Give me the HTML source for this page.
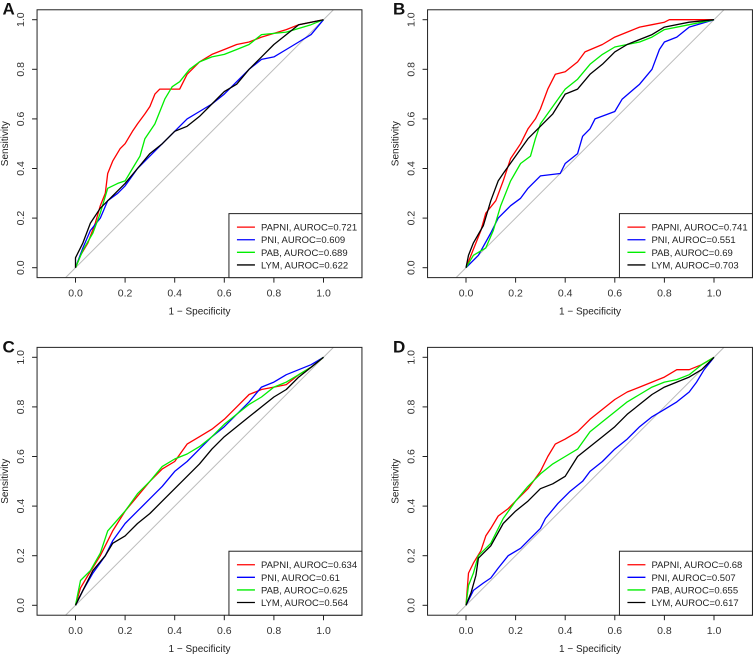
<!DOCTYPE html>
<html><head><meta charset="utf-8"><style>
html,body{margin:0;padding:0;background:#fff;}
svg{display:block;font-family:"Liberation Sans",Arial,sans-serif;}
</style></head><body>
<svg id="chart" width="753" height="655" viewBox="0 0 753 655" xmlns="http://www.w3.org/2000/svg"></svg>
<script>
const panelLetters=["A","B","C","D"];
const seriesNames=["PAPNI","PNI","PAB","LYM"];
const seriesColors=["#ff0000","#0000ff","#00ee00","#000000"];
const aurocA=["0.721","0.609","0.689","0.622"];
const aurocB=["0.741","0.551","0.69","0.703"];
const aurocC=["0.634","0.61","0.625","0.564"];
const aurocD=["0.68","0.507","0.655","0.617"];
const tickValues=[0,0.2,0.4,0.6,0.8,1];
const tickLabels=["0.0","0.2","0.4","0.6","0.8","1.0"];
// panel A
const aPapniX=[0,0.02,0.05,0.08,0.1,0.12,0.13,0.15,0.18,0.2,0.23,0.25,0.28,0.3,0.32,0.34,0.42,0.45,0.5,0.55,0.6,0.65,0.7,0.75,0.85,0.9,1];
const aPapniY=[0,0.05,0.1,0.18,0.25,0.3,0.38,0.43,0.48,0.5,0.55,0.58,0.62,0.65,0.7,0.72,0.72,0.78,0.83,0.86,0.88,0.9,0.91,0.93,0.96,0.98,1];
const aPniX=[0,0.03,0.06,0.1,0.13,0.17,0.2,0.25,0.3,0.35,0.4,0.45,0.5,0.55,0.6,0.65,0.7,0.75,0.8,0.85,0.9,0.95,1];
const aPniY=[0,0.08,0.15,0.2,0.27,0.3,0.33,0.4,0.45,0.5,0.55,0.6,0.63,0.66,0.7,0.75,0.8,0.84,0.85,0.88,0.91,0.94,1];
const aPabX=[0,0.03,0.07,0.1,0.13,0.17,0.2,0.23,0.26,0.28,0.32,0.36,0.39,0.42,0.46,0.5,0.55,0.6,0.65,0.7,0.75,0.85,0.95,1];
const aPabY=[0,0.07,0.14,0.22,0.32,0.34,0.35,0.4,0.45,0.52,0.58,0.68,0.73,0.75,0.8,0.83,0.85,0.86,0.88,0.9,0.94,0.95,0.98,1];
const aLymX=[0,0,0.03,0.06,0.1,0.15,0.2,0.25,0.3,0.35,0.4,0.45,0.5,0.55,0.6,0.65,0.7,0.75,0.8,0.85,0.9,1];
const aLymY=[0,0.04,0.1,0.18,0.24,0.29,0.34,0.4,0.46,0.5,0.55,0.57,0.61,0.66,0.71,0.74,0.8,0.85,0.9,0.94,0.98,1];
// panel B
const bPapniX=[0,0.02,0.06,0.08,0.12,0.15,0.18,0.22,0.25,0.28,0.3,0.33,0.36,0.4,0.45,0.48,0.55,0.6,0.65,0.7,0.75,0.8,0.82,1];
const bPapniY=[0,0.05,0.15,0.22,0.27,0.35,0.44,0.5,0.56,0.6,0.64,0.72,0.78,0.79,0.83,0.87,0.9,0.93,0.95,0.97,0.98,0.99,1,1];
const bPniX=[0,0.05,0.1,0.13,0.18,0.22,0.25,0.3,0.38,0.4,0.45,0.47,0.5,0.52,0.6,0.63,0.7,0.75,0.78,0.8,0.85,0.9,1];
const bPniY=[0,0.05,0.14,0.2,0.25,0.28,0.32,0.37,0.38,0.42,0.46,0.53,0.56,0.6,0.63,0.68,0.74,0.8,0.88,0.91,0.93,0.97,1];
const bPabX=[0,0.03,0.08,0.11,0.14,0.18,0.22,0.26,0.28,0.3,0.35,0.4,0.45,0.5,0.55,0.6,0.65,0.7,0.75,0.8,0.9,1];
const bPabY=[0,0.05,0.08,0.15,0.25,0.35,0.42,0.45,0.52,0.58,0.65,0.72,0.76,0.82,0.86,0.89,0.9,0.91,0.93,0.96,0.98,1];
const bLymX=[0,0.01,0.03,0.07,0.1,0.13,0.15,0.2,0.25,0.3,0.35,0.4,0.45,0.5,0.55,0.6,0.65,0.75,0.8,0.9,1];
const bLymY=[0,0.05,0.1,0.17,0.27,0.35,0.38,0.45,0.52,0.57,0.62,0.7,0.72,0.78,0.82,0.87,0.9,0.94,0.97,0.99,1];
// panel C
const cPapniX=[0,0.02,0.05,0.1,0.15,0.2,0.25,0.3,0.35,0.4,0.45,0.5,0.55,0.6,0.65,0.7,0.75,0.8,0.85,0.9,0.95,1];
const cPapniY=[0,0.07,0.12,0.2,0.3,0.38,0.44,0.5,0.55,0.58,0.65,0.68,0.71,0.75,0.8,0.85,0.87,0.88,0.89,0.93,0.96,1];
const cPniX=[0,0.03,0.07,0.12,0.15,0.2,0.25,0.3,0.35,0.4,0.45,0.5,0.55,0.6,0.65,0.7,0.75,0.8,0.85,0.9,0.95,1];
const cPniY=[0,0.06,0.13,0.2,0.26,0.33,0.38,0.43,0.48,0.54,0.58,0.63,0.68,0.72,0.77,0.82,0.88,0.9,0.93,0.95,0.97,1];
const cPabX=[0,0.02,0.06,0.1,0.13,0.2,0.25,0.3,0.35,0.4,0.45,0.5,0.55,0.6,0.65,0.7,0.75,0.8,0.85,0.9,0.95,1];
const cPabY=[0,0.1,0.14,0.21,0.3,0.38,0.45,0.5,0.56,0.59,0.61,0.64,0.68,0.73,0.77,0.81,0.84,0.88,0.9,0.93,0.96,1];
const cLymX=[0,0.03,0.07,0.12,0.15,0.2,0.25,0.3,0.35,0.4,0.45,0.5,0.55,0.6,0.65,0.7,0.75,0.8,0.85,0.9,0.95,1];
const cLymY=[0,0.06,0.14,0.2,0.25,0.28,0.33,0.37,0.42,0.47,0.52,0.57,0.63,0.68,0.72,0.76,0.8,0.84,0.87,0.92,0.96,1];
// panel D
const dPapniX=[0,0.01,0.03,0.06,0.08,0.1,0.13,0.17,0.2,0.25,0.3,0.33,0.36,0.4,0.45,0.5,0.55,0.6,0.65,0.7,0.75,0.8,0.85,0.9,0.95,1];
const dPapniY=[0,0.13,0.17,0.22,0.28,0.31,0.36,0.39,0.42,0.47,0.54,0.6,0.65,0.67,0.7,0.75,0.79,0.83,0.86,0.88,0.9,0.92,0.95,0.95,0.97,1];
const dPniX=[0,0.03,0.07,0.1,0.13,0.17,0.22,0.25,0.3,0.32,0.37,0.42,0.47,0.5,0.55,0.6,0.65,0.7,0.75,0.8,0.85,0.9,0.93,0.96,1];
const dPniY=[0,0.06,0.09,0.11,0.15,0.2,0.23,0.26,0.31,0.35,0.41,0.46,0.5,0.54,0.58,0.63,0.67,0.72,0.76,0.79,0.82,0.86,0.9,0.95,1];
const dPabX=[0,0.01,0.03,0.05,0.1,0.15,0.2,0.25,0.3,0.35,0.4,0.45,0.5,0.55,0.6,0.65,0.7,0.75,0.8,0.85,0.9,0.95,1];
const dPabY=[0,0.08,0.13,0.2,0.25,0.35,0.42,0.48,0.53,0.57,0.6,0.63,0.7,0.74,0.78,0.82,0.85,0.88,0.9,0.91,0.93,0.97,1];
const dLymX=[0,0.02,0.04,0.05,0.1,0.15,0.2,0.25,0.3,0.35,0.4,0.45,0.5,0.55,0.6,0.65,0.7,0.75,0.8,0.85,0.9,0.95,1];
const dLymY=[0,0.05,0.12,0.19,0.24,0.33,0.38,0.42,0.47,0.49,0.52,0.6,0.64,0.68,0.72,0.77,0.81,0.85,0.88,0.9,0.92,0.95,1];

const panelX=[[aPapniX,aPniX,aPabX,aLymX],[bPapniX,bPniX,bPabX,bLymX],[cPapniX,cPniX,cPabX,cLymX],[dPapniX,dPniX,dPabX,dLymX]];
const panelY=[[aPapniY,aPniY,aPabY,aLymY],[bPapniY,bPniY,bPabY,bLymY],[cPapniY,cPniY,cPabY,cLymY],[dPapniY,dPniY,dPabY,dLymY]];
const panelAuroc=[aurocA,aurocB,aurocC,aurocD];

const NS="http://www.w3.org/2000/svg";
const svg=document.getElementById("chart");
function mk(tag,attrs,parent,text){const e=document.createElementNS(NS,tag);for(const k in attrs)e.setAttribute(k,attrs[k]);if(text!==undefined)e.textContent=text;(parent||svg).appendChild(e);return e;}

const origins=[[75.5,267.7],[466,267.7],[75.5,605.3],[466,605.3]];
const SX=248, SY=248;
for(let p=0;p<4;p++){
  const [ox,oy]=origins[p];
  const sx=v=>ox+v*SX, sy=v=>oy-v*SY;
  const g=mk("g",{});
  
  
  const bx0=sx(-0.155), bx1=Math.min(sx(1.155),752.5), by0=sy(1.04), by1=sy(-0.04);
  const cid="clip"+p;
  const cp=mk("clipPath",{id:cid},g);mk("rect",{x:bx0,y:by0,width:bx1-bx0,height:by1-by0},cp);
  const diag=mk("line",{x1:sx(-0.04),y1:sy(-0.04),x2:sx(1.04),y2:sy(1.04),stroke:"#bbbbbb","stroke-width":1,"clip-path":"url(#"+cid+")"},g);
  
  
  for(let s=0;s<4;s++){
    const xs=panelX[p][s], ys=panelY[p][s];
    let d="";
    for(let i=0;i<xs.length;i++) d+=(i?"L":"M")+sx(xs[i]).toFixed(1)+","+sy(ys[i]).toFixed(1);
    const path=mk("path",{d:d,fill:"none",stroke:seriesColors[s],"stroke-width":1.3,"stroke-linejoin":"round"},g);
    
    
  }
  const frame=mk("rect",{x:bx0,y:by0,width:bx1-bx0,height:by1-by0,fill:"none",stroke:"#222","stroke-width":1},g);
  
  
  for(let t=0;t<tickValues.length;t++){
    const v=tickValues[t];
    mk("line",{x1:sx(v),y1:by1,x2:sx(v),y2:by1+5,stroke:"#222"},g);
    const xl=mk("text",{x:sx(v),y:by1+19,"text-anchor":"middle","font-size":10.5,fill:"#333"},g,tickLabels[t]);
    
    
    mk("line",{x1:bx0,y1:sy(v),x2:bx0-5,y2:sy(v),stroke:"#222"},g);
    const yl=mk("text",{x:0,y:0,"text-anchor":"middle","font-size":10.5,fill:"#333",transform:"translate("+(bx0-13)+","+sy(v)+") rotate(-90)"},g,tickLabels[t]);
    
    
  }
  const xt=mk("text",{x:sx(0.5),y:by1+37,"text-anchor":"middle","font-size":10,fill:"#222"},g,"1 − Specificity");
  
  
  const yt=mk("text",{x:0,y:0,"text-anchor":"middle","font-size":10,fill:"#222",transform:"translate("+(bx0-29)+","+sy(0.5)+") rotate(-90)"},g,"Sensitivity");
  
  
  const pl=mk("text",{x:ox-73,y:oy-253,"font-size":17,"font-weight":"bold",fill:"#111"},g,panelLetters[p]);
  
  
  // legend
  const lx=bx1-133, ly=by1-64;
  const lg=mk("g",{},g);
  
  
  mk("rect",{x:lx,y:ly,width:133,height:64,fill:"#fff",stroke:"#222","stroke-width":1},lg);
  for(let s=0;s<4;s++){
    const ey=ly+13.5+s*12.6;
    const e=mk("g",{},lg);
    
    
    mk("line",{x1:lx+8,y1:ey,x2:lx+26,y2:ey,stroke:seriesColors[s],"stroke-width":1.3},e);
    mk("text",{x:lx+32,y:ey+3.5,"font-size":9.5,fill:"#222"},e,seriesNames[s]+", AUROC="+panelAuroc[p][s]);
  }
}
</script>
</body></html>
